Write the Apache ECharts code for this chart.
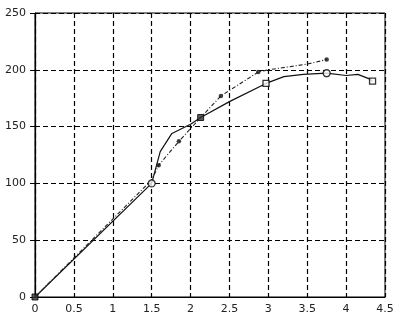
<!DOCTYPE html>
<html><head><meta charset="utf-8">
<script src="https://cdn.jsdelivr.net/npm/echarts@6/dist/echarts.min.js"></script>
<style>html,body{margin:0;padding:0;background:#fff}#c{width:407px;height:322px}</style>
</head><body><div id="c"></div>
<script>
const xTicks = [0, 0.5, 1, 1.5, 2, 2.5, 3, 3.5, 4, 4.5];
const yTicks = [0, 50, 100, 150, 200, 250];
const solidX = [0, 1.5, 1.61, 1.76, 2.0, 2.13, 2.5, 2.97, 3.2, 3.45, 3.75, 4.0, 4.15, 4.3, 4.34];
const solidY = [0, 100, 128, 144, 152, 158, 172, 188, 194, 196, 197, 195, 196, 192, 190];
const dashX = [0, 1.5, 1.59, 1.85, 2.13, 2.39, 2.87, 3.0, 3.5, 3.75];
const dashY = [0, 103, 116, 137, 158, 177, 198, 200, 205, 209];

const solidMarkIdx = {circle: [1, 10], rect: [7, 14], filled: [0, 5]};
const dashMarkIdx = [2, 3, 5, 6, 9];

const pts = (xs, ys) => xs.map((x, i) => [x, ys[i]]);
const solid = pts(solidX, solidY);
const dash = pts(dashX, dashY);

const chart = echarts.init(document.getElementById('c'));
const axisText = {color: '#222', fontSize: 11, fontFamily: 'DejaVu Sans'};
chart.setOption({
  animation: false,
  grid: {left: 35, right: 22, top: 13, bottom: 25, show: true, borderColor: '#000', borderWidth: 1},
  xAxis: {
    type: 'value', min: 0, max: 4.5, interval: 0.5,
    axisLine: {lineStyle: {color: '#000', width: 1.2}},
    axisTick: {show: false},
    axisLabel: Object.assign({margin: 7, formatter: v => String(v)}, axisText),
    splitLine: {show: true, lineStyle: {color: '#000', type: [5, 3], width: 1.2}}
  },
  yAxis: {
    type: 'value', min: 0, max: 250, interval: 50,
    axisLine: {show: true, lineStyle: {color: '#000', width: 1.2}},
    axisTick: {show: true, length: 5, lineStyle: {color: '#000'}},
    axisLabel: Object.assign({margin: 9}, axisText),
    splitLine: {show: true, lineStyle: {color: '#000', type: [5, 3], width: 1.2}}
  },
  series: [
    {type: 'line', data: solid, showSymbol: false, lineStyle: {color: '#111', width: 1.2}, z: 3},
    {type: 'line', data: dash, showSymbol: false, lineStyle: {color: '#222', width: 1.1, type: [4, 2, 1, 2]}, z: 3},
    {type: 'scatter', data: solidMarkIdx.circle.map(i => solid[i]), symbol: 'circle', symbolSize: 7,
      itemStyle: {color: '#fff', borderColor: '#000', borderWidth: 1.3}, z: 5},
    {type: 'scatter', data: solidMarkIdx.rect.map(i => solid[i]), symbol: 'rect', symbolSize: 6,
      itemStyle: {color: '#fff', borderColor: '#000', borderWidth: 1.3}, z: 5},
    {type: 'scatter', data: solidMarkIdx.filled.map(i => solid[i]), symbol: 'rect', symbolSize: 6,
      itemStyle: {color: '#333', borderColor: '#000', borderWidth: 1}, z: 5},
    {type: 'scatter', data: dashMarkIdx.map(i => dash[i]), symbol: 'circle', symbolSize: 4.5,
      itemStyle: {color: '#111'}, z: 6}
  ]
});
</script></body></html>
